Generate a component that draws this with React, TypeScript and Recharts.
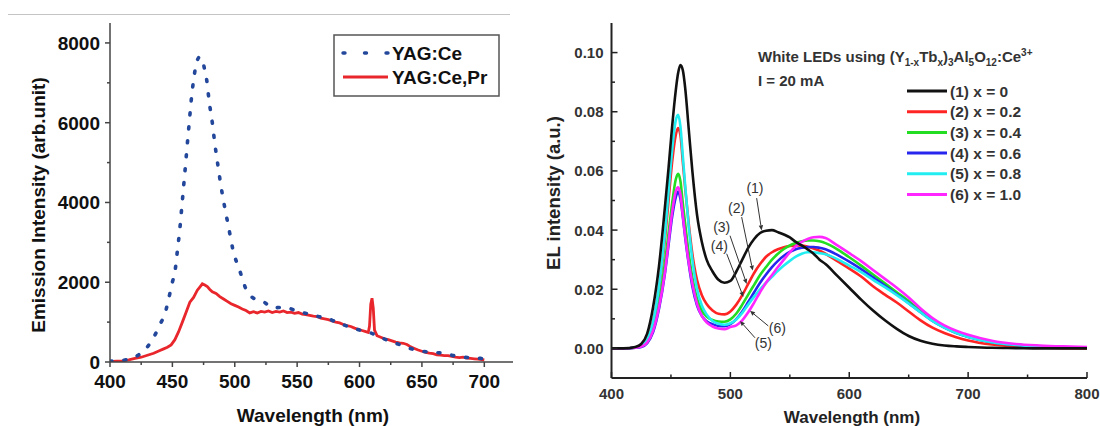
import React from 'react';
import { LineChart, Line, XAxis, YAxis, ReferenceLine, ReferenceDot } from 'recharts';

const FONT = '"Liberation Sans", Arial, Helvetica, sans-serif';

// ---------- Left chart data (YAG:Ce vs YAG:Ce,Pr) ----------
const ceWl = [400, 405, 410, 415, 418, 422, 426, 430, 434, 438, 441, 444, 446, 448, 450, 452, 454, 456, 457.5, 459, 460.5, 462, 463.5, 465, 467, 470, 472, 474, 476, 477.5, 479.5, 482, 484, 486.5, 489, 492, 495, 498.5, 504, 510, 515, 519, 524, 530, 540, 551, 560, 567, 574, 580, 590, 600, 609, 615, 622, 630, 637, 645, 655, 667, 677, 687, 697, 700];
const ceVal = [20, 25, 40, 70, 100, 160, 250, 380, 560, 800, 1000, 1200, 1450, 1720, 2000, 2250, 2790, 3350, 3870, 4400, 4930, 5480, 6000, 6530, 7070, 7570, 7650, 7590, 7300, 7070, 6530, 6000, 5480, 4930, 4400, 3870, 3390, 2820, 2290, 1760, 1600, 1550, 1490, 1360, 1370, 1260, 1200, 1140, 1100, 1020, 900, 800, 730, 640, 550, 460, 380, 300, 250, 220, 150, 110, 90, 80];

const cePrWl = [400, 405, 410, 415, 420, 425, 430, 435, 440, 443, 446, 449, 452, 455, 458, 461, 464, 467, 470, 472, 474, 476, 478, 480, 482, 485, 488, 491, 494, 497, 500, 503, 506, 509, 512, 515, 518, 521, 524, 527, 530, 533, 536, 539, 542, 545, 548, 551, 554, 557, 560, 563, 566, 569, 572, 575, 578, 581, 584, 587, 590, 593, 596, 599, 602, 605, 607, 608, 609, 610, 611, 612, 614, 617, 620, 623, 626, 629, 632, 635, 638, 641, 644, 647, 650, 653, 656, 659, 662, 665, 668, 671, 674, 677, 680, 683, 686, 689, 692, 695, 698, 700];
const cePrVal = [10, 20, 30, 55, 90, 120, 170, 220, 290, 330, 370, 430, 560, 760, 1000, 1250, 1500, 1620, 1800, 1880, 1960, 1930, 1890, 1820, 1760, 1720, 1640, 1580, 1520, 1460, 1420, 1380, 1330, 1290, 1230, 1260, 1230, 1270, 1250, 1280, 1240, 1270, 1250, 1280, 1240, 1250, 1220, 1240, 1200, 1190, 1170, 1150, 1140, 1100, 1080, 1060, 1030, 1000, 980, 940, 910, 890, 850, 820, 790, 760, 740, 900, 1450, 1600, 1350, 800, 660, 620, 580, 560, 530, 500, 480, 470, 440, 380, 340, 300, 270, 240, 220, 210, 180, 170, 160, 160, 140, 120, 110, 120, 100, 90, 80, 70, 60, 50];

const leftXTicks = [400, 425, 450, 475, 500, 525, 550, 575, 600, 625, 650, 675, 700];
const leftYTicks = [0, 1000, 2000, 3000, 4000, 5000, 6000, 7000, 8000];

// ---------- Right chart data (EL spectra) ----------
const elWl = [400, 410, 420, 425, 430, 435, 440, 445, 448, 451, 454, 456, 458, 460, 462, 465, 468, 472, 476, 480, 485, 490, 495, 500, 505, 510, 515, 520, 525, 530, 535, 540, 545, 550, 555, 560, 565, 570, 575, 580, 590, 600, 610, 620, 630, 640, 650, 660, 670, 680, 690, 700, 720, 740, 760, 780, 800];
const elX00 = [0, 0, 0.0005, 0.0015, 0.005, 0.014, 0.028, 0.048, 0.061, 0.075, 0.087, 0.093, 0.0958, 0.094, 0.088, 0.074, 0.06, 0.045, 0.036, 0.03, 0.026, 0.0232, 0.0222, 0.0228, 0.026, 0.03, 0.034, 0.037, 0.039, 0.0398, 0.04, 0.0393, 0.0385, 0.0375, 0.036, 0.0348, 0.0335, 0.032, 0.03, 0.0285, 0.0245, 0.0205, 0.0165, 0.0128, 0.0095, 0.0066, 0.0042, 0.0026, 0.0016, 0.001, 0.0007, 0.0005, 0.0002, 0.0001, 0, 0, 0];
const elX02 = [0, 0, 0.0003, 0.001, 0.003, 0.009, 0.02, 0.037, 0.05, 0.063, 0.072, 0.0745, 0.072, 0.063, 0.054, 0.042, 0.032, 0.023, 0.018, 0.015, 0.0128, 0.0117, 0.0115, 0.0125, 0.0148, 0.018, 0.0218, 0.0255, 0.0285, 0.031, 0.0325, 0.0335, 0.0342, 0.0346, 0.0348, 0.0348, 0.0344, 0.0338, 0.033, 0.032, 0.0295, 0.027, 0.0243, 0.021, 0.0182, 0.0155, 0.0125, 0.0095, 0.007, 0.0052, 0.0038, 0.0027, 0.0013, 0.0006, 0.0003, 0.0001, 0];
const elX04 = [0, 0, 0.0002, 0.0007, 0.0022, 0.0066, 0.0155, 0.029, 0.039, 0.049, 0.057, 0.059, 0.0565, 0.049, 0.042, 0.032, 0.024, 0.0168, 0.0128, 0.0108, 0.0096, 0.0091, 0.009, 0.0098, 0.0118, 0.0148, 0.0182, 0.0215, 0.0248, 0.0275, 0.03, 0.032, 0.0336, 0.0348, 0.0356, 0.0362, 0.0365, 0.0365, 0.0362, 0.0356, 0.0335, 0.0308, 0.028, 0.025, 0.022, 0.019, 0.016, 0.0127, 0.0097, 0.0073, 0.0054, 0.004, 0.0021, 0.0012, 0.0007, 0.0004, 0.0003];
const elX06 = [0, 0, 0.0002, 0.0005, 0.0018, 0.0055, 0.0135, 0.0255, 0.035, 0.0445, 0.051, 0.053, 0.0505, 0.0445, 0.0375, 0.0285, 0.021, 0.0145, 0.011, 0.0092, 0.0082, 0.0076, 0.0075, 0.0082, 0.0099, 0.0125, 0.0157, 0.019, 0.0222, 0.025, 0.0275, 0.0296, 0.0313, 0.0326, 0.0335, 0.034, 0.0343, 0.0343, 0.034, 0.0335, 0.0316, 0.0293, 0.0268, 0.024, 0.0212, 0.0183, 0.0153, 0.0122, 0.0093, 0.007, 0.0052, 0.0039, 0.0021, 0.0012, 0.0007, 0.0004, 0.0003];
const elX08 = [0, 0, 0.0003, 0.001, 0.003, 0.009, 0.021, 0.039, 0.053, 0.067, 0.077, 0.079, 0.075, 0.065, 0.055, 0.041, 0.03, 0.02, 0.0145, 0.0115, 0.0093, 0.0083, 0.008, 0.0085, 0.0098, 0.012, 0.0148, 0.0175, 0.02, 0.0222, 0.0242, 0.0262, 0.028, 0.0296, 0.031, 0.032, 0.0325, 0.0325, 0.0322, 0.0318, 0.0302, 0.028, 0.0258, 0.0232, 0.0207, 0.018, 0.0152, 0.0122, 0.0093, 0.007, 0.0052, 0.0039, 0.0021, 0.0012, 0.0007, 0.0004, 0.0003];
const elX10 = [0, 0, 0.0002, 0.0006, 0.002, 0.006, 0.014, 0.026, 0.036, 0.046, 0.053, 0.0545, 0.052, 0.045, 0.038, 0.029, 0.022, 0.015, 0.011, 0.0088, 0.0074, 0.0067, 0.0065, 0.0072, 0.0078, 0.0095, 0.0122, 0.0155, 0.019, 0.0222, 0.0248, 0.0275, 0.03, 0.0325, 0.0345, 0.036, 0.037, 0.0376, 0.0377, 0.0373, 0.0348, 0.0322, 0.0295, 0.0265, 0.0235, 0.0205, 0.0172, 0.0135, 0.0103, 0.0078, 0.006, 0.0046, 0.0026, 0.0015, 0.001, 0.0007, 0.0005];

const rightXTicks = [400, 450, 500, 550, 600, 650, 700, 750, 800];
const rightYTicks = [0, 0.01, 0.02, 0.03, 0.04, 0.05, 0.06, 0.07, 0.08, 0.09, 0.1];

const elSeries = [
  { key: 'x02', label: '(2) x = 0.2', color: '#ff2424', values: elX02 },
  { key: 'x04', label: '(3) x = 0.4', color: '#22dd22', values: elX04 },
  { key: 'x06', label: '(4) x = 0.6', color: '#2626ee', values: elX06 },
  { key: 'x08', label: '(5) x = 0.8', color: '#22eef2', values: elX08 },
  { key: 'x10', label: '(6) x = 1.0', color: '#ff26ff', values: elX10 },
  { key: 'x00', label: '(1) x = 0', color: '#111111', values: elX00 },
];
const legendOrder = ['x00', 'x02', 'x04', 'x06', 'x08', 'x10'];

// annotation labels and arrows (data coordinates: wavelength, intensity)
const annoLabels = [
  { text: '(1)', wl: 520.7, v: 0.0542 },
  { text: '(2)', wl: 505.3, v: 0.0473 },
  { text: '(3)', wl: 492.7, v: 0.041 },
  { text: '(4)', wl: 490.7, v: 0.0345 },
  { text: '(6)', wl: 539.5, v: 0.007 },
  { text: '(5)', wl: 527.7, v: 0.0017 },
];
const annoArrows = [
  { from: [522.1, 0.0508], to: [526.3, 0.0399] },
  { from: [509.5, 0.0444], to: [518.8, 0.0263] },
  { from: [499.7, 0.0381], to: [513.7, 0.0218] },
  { from: [496.9, 0.032], to: [510.9, 0.0174] },
  { from: [531.9, 0.0076], to: [516.5, 0.0127] },
  { from: [520.7, 0.0036], to: [508.1, 0.0093] },
];

const ceData = ceWl.map((w, i) => ({ wl: w, v: ceVal[i] }));
const cePrData = cePrWl.map((w, i) => ({ wl: w, v: cePrVal[i] }));
const elData = elWl.map((w, i) => {
  const row: any = { wl: w };
  elSeries.forEach((s) => { row[s.key] = s.values[i]; });
  return row;
});

// ---------- tick renderers ----------
function LeftXTick(props: any) {
  const { x, y, payload } = props;
  const v = payload.value;
  const major = v % 50 === 0;
  return (
    <g>
      <line x1={x} y1={y} x2={x} y2={y + (major ? 5 : 3)} stroke="#444" strokeWidth={1.5} />
      {major && (
        <text x={x} y={y + 26} textAnchor="middle" fontSize={19} fontWeight="bold" fill="#111" fontFamily={FONT}>{v}</text>
      )}
    </g>
  );
}
function LeftYTick(props: any) {
  const { x, y, payload } = props;
  const v = payload.value;
  const major = v % 2000 === 0;
  return (
    <g>
      <line x1={x - (major ? 5 : 3)} y1={y} x2={x} y2={y} stroke="#444" strokeWidth={1.5} />
      {major && (
        <text x={x - 10} y={y + 7} textAnchor="end" fontSize={19} fontWeight="bold" fill="#111" fontFamily={FONT}>{v}</text>
      )}
    </g>
  );
}
function RightXTick(props: any) {
  const { x, y, payload } = props;
  const v = payload.value;
  const major = v % 100 === 0;
  return (
    <g>
      <line x1={x} y1={y} x2={x} y2={y - (major ? 6 : 3.5)} stroke="#222" strokeWidth={1.5} />
      {major && (
        <text x={x} y={y + 21} textAnchor="middle" fontSize={15} fontWeight="bold" fill="#333" fontFamily={FONT}>{v}</text>
      )}
    </g>
  );
}
function RightYTick(props: any) {
  const { x, y, payload } = props;
  const v = payload.value;
  const major = Math.round(v * 100) % 2 === 0;
  return (
    <g>
      <line x1={x} y1={y} x2={x + (major ? 6 : 3.5)} y2={y} stroke="#222" strokeWidth={1.5} />
      {major && (
        <text x={x - 8} y={y + 5.5} textAnchor="end" fontSize={15} fontWeight="bold" fill="#333" fontFamily={FONT}>{v.toFixed(2)}</text>
      )}
    </g>
  );
}

function Arrow(props: any) {
  const { x1, y1, x2, y2 } = props;
  const ang = Math.atan2(y2 - y1, x2 - x1);
  const L = 5, W = 2.2;
  const bx = x2 - L * Math.cos(ang), by = y2 - L * Math.sin(ang);
  const p1 = `${bx + W * Math.sin(ang)},${by - W * Math.cos(ang)}`;
  const p2 = `${bx - W * Math.sin(ang)},${by + W * Math.cos(ang)}`;
  return (
    <g>
      <line x1={x1} y1={y1} x2={bx} y2={by} stroke="#333" strokeWidth={1} />
      <polygon points={`${x2},${y2} ${p1} ${p2}`} fill="#333" />
    </g>
  );
}

export default function App() {
  const legendMap: any = {};
  elSeries.forEach((s) => { legendMap[s.key] = s; });
  return (
    <div style={{ position: 'absolute', left: 0, top: 0, width: 1100, height: 426, background: '#fff', fontFamily: FONT }}>
      {/* Left chart */}
      <div style={{ position: 'absolute', left: 0, top: 0 }}>
        <LineChart width={540} height={426} margin={{ top: 23, right: 27, bottom: 0, left: 0 }}>
          <XAxis dataKey="wl" type="number" domain={[400, 723]} allowDataOverflow ticks={leftXTicks} interval={0}
            tick={<LeftXTick />} tickLine={false} tickSize={0} tickMargin={0} height={64}
            axisLine={{ stroke: '#444', strokeWidth: 1.5 }} />
          <XAxis xAxisId="top" orientation="top" dataKey="wl" type="number" domain={[400, 723]} allowDataOverflow
            tick={false} tickLine={false} height={0} axisLine={{ stroke: '#444', strokeWidth: 1.5 }} />
          <YAxis type="number" domain={[0, 8500]} allowDataOverflow ticks={leftYTicks} interval={0}
            tick={<LeftYTick />} tickLine={false} tickSize={0} tickMargin={0} width={110}
            axisLine={{ stroke: '#444', strokeWidth: 1.5 }} />
          <YAxis yAxisId="right" orientation="right" type="number" domain={[0, 8500]} tick={false} tickLine={false}
            width={0} axisLine={{ stroke: '#444', strokeWidth: 1.5 }} />
          <Line data={cePrData} dataKey="v" type="linear" stroke="#e8262b" strokeWidth={2.8} dot={false} isAnimationActive={false} />
          <Line data={ceData} dataKey="v" type="monotone" stroke="#23479b" strokeWidth={3.6} strokeDasharray="2 12"
            strokeLinecap="round" dot={false} isAnimationActive={false} />
        </LineChart>
      </div>

      {/* Right chart */}
      <div style={{ position: 'absolute', left: 540, top: 0 }}>
        <LineChart width={560} height={426} data={elData} margin={{ top: 23, right: 13, bottom: 0, left: 0 }}>
          <XAxis dataKey="wl" type="number" domain={[400, 800]} allowDataOverflow ticks={rightXTicks} interval={0}
            tick={<RightXTick />} tickLine={false} tickSize={0} tickMargin={0} height={48}
            axisLine={{ stroke: '#222', strokeWidth: 2 }} />
          <XAxis xAxisId="top" orientation="top" dataKey="wl" type="number" domain={[400, 800]} allowDataOverflow
            tick={false} tickLine={false} height={0} axisLine={{ stroke: '#222', strokeWidth: 2 }} />
          <YAxis type="number" domain={[-0.01, 0.11]} allowDataOverflow ticks={rightYTicks} interval={0}
            tick={<RightYTick />} tickLine={false} tickSize={0} tickMargin={0} width={71.5}
            axisLine={{ stroke: '#222', strokeWidth: 2 }} />
          <YAxis yAxisId="right" orientation="right" type="number" domain={[-0.01, 0.11]} tick={false} tickLine={false}
            width={0} axisLine={{ stroke: '#222', strokeWidth: 2 }} />
          {elSeries.map((s) => (
            <Line key={s.key} dataKey={s.key} type="monotone" stroke={s.color} strokeWidth={2.6} dot={false} isAnimationActive={false} />
          ))}
          {annoArrows.map((a, i) => (
            <ReferenceLine key={'a' + i} segment={[{ x: a.from[0], y: a.from[1] }, { x: a.to[0], y: a.to[1] }]}
              stroke="#333" shape={(p: any) => <Arrow {...p} />} />
          ))}
          {annoLabels.map((l, i) => (
            <ReferenceDot key={'l' + i} x={l.wl} y={l.v} r={0} fill="none" stroke="none"
              label={{ value: l.text, position: 'center', fill: '#333', fontSize: 14, fontFamily: FONT }} />
          ))}
        </LineChart>
      </div>

      {/* Overlay: titles, legends */}
      <svg width={1100} height={426} style={{ position: 'absolute', left: 0, top: 0, pointerEvents: 'none' }} fontFamily={FONT}>
        <line x1={8} y1={14.5} x2={510} y2={14.5} stroke="#c4c4c4" strokeWidth={1} />

        {/* left legend */}
        <rect x={334} y={35} width={165} height={61} fill="none" stroke="#555" strokeWidth={1.5} />
        <line x1={343} y1={53} x2={388} y2={53} stroke="#23479b" strokeWidth={3.4} strokeDasharray="2 19.5" strokeLinecap="round" />
        <text x={392} y={60} fontSize={19} fontWeight="bold" fill="#111">YAG:Ce</text>
        <line x1={343} y1={77} x2={388} y2={77} stroke="#e8262b" strokeWidth={3} />
        <text x={392} y={84} fontSize={19} fontWeight="bold" fill="#111">YAG:Ce,Pr</text>

        {/* left axis titles */}
        <text x={313} y={422} textAnchor="middle" fontSize={19} fontWeight="bold" fill="#111">Wavelength (nm)</text>
        <text transform="translate(45,205) rotate(-90)" textAnchor="middle" fontSize={19} fontWeight="bold" fill="#111">Emission Intensity (arb.unit)</text>

        {/* right title */}
        <text x={758} y={62} fontSize={15} fontWeight="bold" fill="#333">
          White LEDs using (Y<tspan fontSize={10} dy={4}>1-x</tspan><tspan dy={-4}>Tb</tspan><tspan fontSize={10} dy={4}>x</tspan><tspan dy={-4}>)</tspan><tspan fontSize={10} dy={4}>3</tspan><tspan dy={-4}>Al</tspan><tspan fontSize={10} dy={4}>5</tspan><tspan dy={-4}>O</tspan><tspan fontSize={10} dy={4}>12</tspan><tspan dy={-4}>:Ce</tspan><tspan fontSize={10} dy={-6}>3+</tspan>
        </text>
        <text x={758} y={86} fontSize={15} fontWeight="bold" fill="#333">I = 20 mA</text>

        {/* right legend */}
        {legendOrder.map((k, i) => {
          const s = legendMap[k];
          const y = 91 + i * 20.7;
          return (
            <g key={k}>
              <line x1={907} y1={y} x2={947} y2={y} stroke={s.color} strokeWidth={3} />
              <text x={950} y={y + 5.5} fontSize={15.5} fontWeight="bold" fill="#333">{s.label}</text>
            </g>
          );
        })}

        {/* right axis titles */}
        <text x={852} y={423} textAnchor="middle" fontSize={17} fontWeight="bold" fill="#222">Wavelength (nm)</text>
        <text transform="translate(560,193) rotate(-90)" textAnchor="middle" fontSize={18.5} fontWeight="bold" fill="#222">EL intensity (a.u.)</text>
      </svg>
    </div>
  );
}
